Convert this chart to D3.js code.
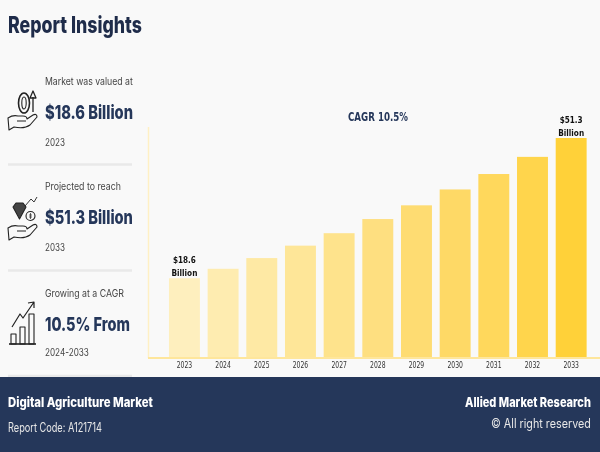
<!DOCTYPE html>
<html lang="en">
<head>
<meta charset="UTF-8">
<title>Digital Agriculture Market</title>
<script src="https://d3js.org/d3.v7.min.js"></script>
<style>
  html, body { margin: 0; padding: 0; background: #f9f9f9; }
  svg { display: block; filter: blur(0.35px); }
</style>
</head>
<body>
<script>
const years = ['2023', '2024', '2025', '2026', '2027', '2028', '2029', '2030', '2031', '2032', '2033']
const values = [18.6, 20.8, 23.3, 26.2, 29.1, 32.4, 35.6, 39.3, 42.9, 46.9, 51.3]
const barColors = ['#feefbe', '#feecb0', '#fee9a4', '#fee698', '#fee38c', '#fedf80', '#fedc72', '#fed966', '#ffd85c', '#ffd54c', '#ffd139']
const labelledYears = ['2023', '2033']

const navy = '#25375a'
const sans = 'Inter, "Noto Sans", sans-serif'
const chartFont = '"DejaVu Sans", sans-serif'
const [width, height] = [600, 452]

const svg = d3.select('body').append('svg')
  .attr('width', width)
  .attr('height', height)

svg.append('rect')
  .attr('width', width).attr('height', height)
  .attr('fill', '#f9f9f9')

// chart
const x = d3.scaleBand()
  .domain(years)
  .range([165.1, 590.5])
  .paddingInner(0.2)
  .paddingOuter(0.1)
const y = d3.scaleLinear()
  .domain([0, 51.3])
  .range([358, 138])

svg.append('line')
  .attr('x1', 148.5).attr('x2', 148.5)
  .attr('y1', 127).attr('y2', 358)
  .attr('stroke', '#fff0c4')
  .attr('stroke-width', 1.5)

svg.selectAll('rect.bar')
  .data(years)
  .enter().append('rect')
  .attr('class', 'bar')
  .attr('x', d => x(d))
  .attr('y', (d, i) => y(values[i]))
  .attr('width', x.bandwidth())
  .attr('height', (d, i) => y(0) - y(values[i]))
  .attr('fill', (d, i) => barColors[i])

const axis = svg.append('g')
  .attr('transform', 'translate(0,358)')
  .call(d3.axisBottom(x).tickSize(0).tickPadding(4))
axis.select('.domain').remove()
axis.selectAll('text')
  .attr('font-family', chartFont)
  .attr('font-size', 9)
  .attr('fill', '#333')
  .attr('textLength', 15.5)
  .attr('lengthAdjust', 'spacingAndGlyphs')

svg.append('line')
  .attr('x1', 148).attr('x2', 600)
  .attr('y1', 358).attr('y2', 358)
  .attr('stroke', '#fee69c')
  .attr('stroke-width', 2)

labelledYears.forEach(year => {
  const v = values[years.indexOf(year)]
  const cx = x(year) + x.bandwidth() / 2
  const addLine = (str, dy, len) => svg.append('text')
    .attr('x', cx).attr('y', y(v) + dy)
    .attr('text-anchor', 'middle')
    .attr('font-family', chartFont)
    .attr('font-size', 9.5)
    .attr('font-weight', 700)
    .attr('fill', '#111')
    .attr('textLength', len)
    .attr('lengthAdjust', 'spacingAndGlyphs')
    .text(str)
  addLine('$' + v.toFixed(1), -15, 23)
  addLine('Billion', -2.5, 26)
})

svg.append('text')
  .attr('x', 378).attr('y', 121)
  .attr('text-anchor', 'middle')
  .attr('font-family', chartFont)
  .attr('font-size', 12)
  .attr('font-weight', 700)
  .attr('fill', navy)
  .attr('textLength', 60)
  .attr('lengthAdjust', 'spacingAndGlyphs')
  .text('CAGR 10.5%')

// left column and footer text, squeezed sideways to the reference's width
const addText = (str, px, py, size, weight, fill, len) => {
  const t = svg.append('text')
    .attr('font-family', sans)
    .attr('font-size', size)
    .attr('font-weight', weight)
    .attr('fill', fill)
    .text(str)
  const sx = len / t.node().getComputedTextLength()
  t.attr('transform', `translate(${px},${py}) scale(${sx},1)`)
  return t
}

addText('Report Insights', 8, 33, 23, 800, '#1f2c4a', 134)

addText('Market was valued at', 45, 85, 10.5, 400, '#444', 88)
addText('$18.6 Billion', 45, 119, 19, 800, navy, 88)
addText('2023', 45, 146, 10.5, 400, '#444', 20)

addText('Projected to reach', 45, 190, 10.5, 400, '#444', 76)
addText('$51.3 Billion', 45, 224, 19, 800, navy, 88)
addText('2033', 45, 251, 10.5, 400, '#444', 20)

addText('Growing at a CAGR', 45, 297, 10.5, 400, '#444', 79)
addText('10.5% From', 45, 331, 19, 800, navy, 85)
addText('2024-2033', 45, 356, 10.5, 400, '#444', 44)

svg.selectAll('line.sep')
  .data([164.5, 270.5, 376])
  .enter().append('line')
  .attr('class', 'sep')
  .attr('x1', 8).attr('x2', 132)
  .attr('y1', d => d).attr('y2', d => d)
  .attr('stroke', '#e9e9e9')
  .attr('stroke-width', 2.5)

// icons
const icon = (px, py) => svg.append('g')
  .attr('transform', `translate(${px},${py})`)
  .attr('fill', 'none')
  .attr('stroke', '#222')
  .attr('stroke-width', 1.1)
  .attr('stroke-linejoin', 'round')

// open hand, about 29 wide and 17 tall, top left at the group origin
const hand = 'M0,5 L1,17 L6,14 C11,15 18,15 22,12 L29,4 C29,1 27,1 25,2 L19,6 C19,4 17,3 15,3 L10,3 C6,2 3,3 0,5 Z M9,8 L18,8'

const i1 = icon(8, 113)
i1.append('path').attr('d', hand)
i1.append('ellipse').attr('cx', 16).attr('cy', -10).attr('rx', 5.5).attr('ry', 10).attr('stroke-width', 1.6)
i1.append('ellipse').attr('cx', 16).attr('cy', -10).attr('rx', 2.2).attr('ry', 6)
i1.append('path').attr('d', 'M25,-1 L25,-16 M22,-15 L25,-22 L28,-15 Z').attr('stroke-width', 1.3)

const i2 = icon(8, 223)
i2.append('path').attr('d', hand)
i2.append('path').attr('d', 'M5,-16 L8,-20 L15,-20 L18,-16 L11.5,-4 Z').attr('fill', '#444')
i2.append('circle').attr('cx', 22.5).attr('cy', -7).attr('r', 4.5)
i2.append('path').attr('d', 'M22.5,-10 L22.5,-4 M21,-8 L24,-8 M21,-6 L24,-6').attr('stroke-width', 0.7)
i2.append('path').attr('d', 'M17,-17 L23,-24 L26,-21 L29,-26').attr('stroke-width', 0.9)

const i3 = icon(9, 334)
i3.append('path').attr('d', 'M0,10 L27,10').attr('stroke-width', 1.6)
i3.append('rect').attr('x', 2).attr('y', 0).attr('width', 5).attr('height', 10)
i3.append('rect').attr('x', 11).attr('y', -7).attr('width', 5).attr('height', 17)
i3.append('rect').attr('x', 20).attr('y', -20).attr('width', 5).attr('height', 30)
i3.append('path').attr('d', 'M3,-7 L11,-20 L14,-16 L25,-32 M19,-31 L25,-32 L25,-26').attr('stroke-width', 1.2)

// footer
svg.append('rect')
  .attr('x', 0).attr('y', 377)
  .attr('width', width).attr('height', height - 377)
  .attr('fill', navy)

addText('Digital Agriculture Market', 8, 407, 13.5, 800, '#fff', 145)
addText('Report Code: A121714', 8, 432, 12.5, 400, '#e8e8e8', 94)
addText('Allied Market Research', 465, 407, 13.5, 800, '#fff', 126)
addText('© All right reserved', 491, 428, 12.5, 400, '#e8e8e8', 100)
</script>
</body>
</html>
